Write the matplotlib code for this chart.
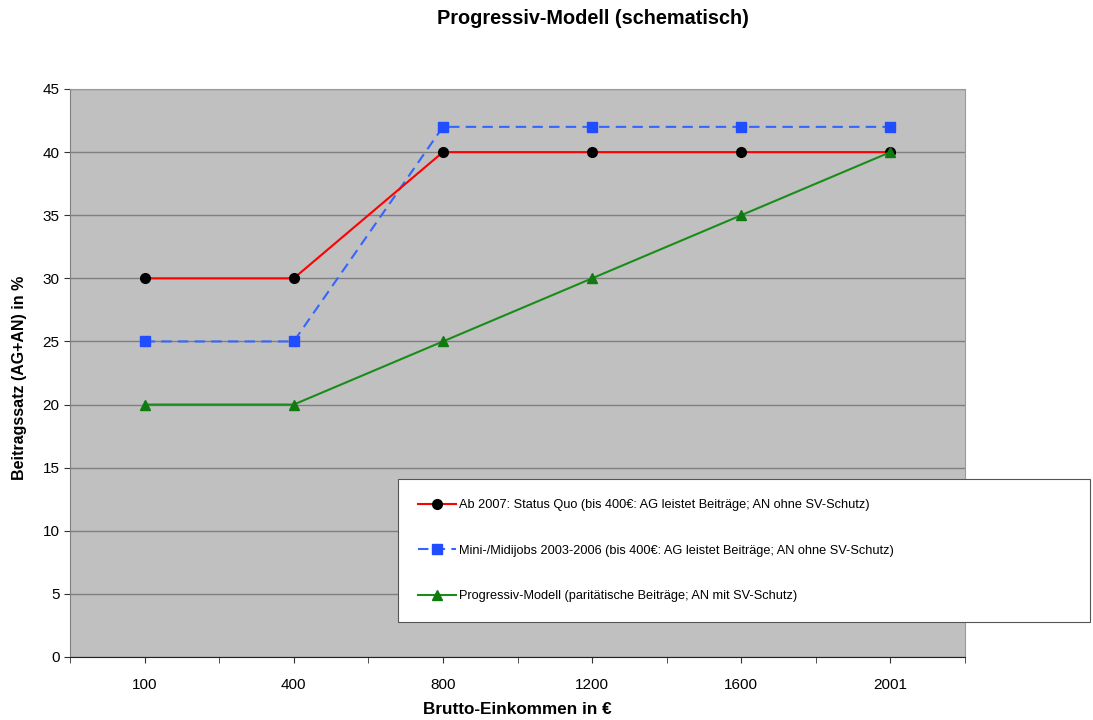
import matplotlib.pyplot as plt
from matplotlib.lines import Line2D

plt.rcParams['font.family'] = ['Liberation Sans', 'DejaVu Sans']

# Daten
einkommen = ['100', '400', '800', '1200', '1600', '2001']
status_quo = [30, 30, 40, 40, 40, 40]
mini_midi = [25, 25, 42, 42, 42, 42]
progressiv = [20, 20, 25, 30, 35, 40]

labels = [
    'Ab 2007: Status Quo (bis 400€: AG leistet Beiträge; AN ohne SV-Schutz)',
    'Mini-/Midijobs 2003-2006 (bis 400€: AG leistet Beiträge; AN ohne SV-Schutz)',
    'Progressiv-Modell (paritätische Beiträge; AN mit SV-Schutz)',
]

fig = plt.figure(figsize=(10.93, 7.2), dpi=100)
ax = fig.add_axes([70 / 1093, 1 - 657 / 720, 895 / 1093, 568 / 720])
ax.set_facecolor('#c0c0c0')

x = range(len(einkommen))
ax.plot(x, mini_midi, color='#3366ff', linestyle=(0, (5, 3)), linewidth=1.5,
        marker='s', markersize=7, markerfacecolor='#1f4dff', markeredgecolor='#1f4dff', zorder=3)
ax.plot(x, status_quo, color='#ff0000', linewidth=1.5,
        marker='o', markersize=7, markerfacecolor='black', markeredgecolor='black', zorder=4)
ax.plot(x, progressiv, color='#1a8c1a', linewidth=1.5,
        marker='^', markersize=7, markerfacecolor='#107a10', markeredgecolor='#107a10', zorder=5)

ax.set_xlim(-0.5, len(einkommen) - 0.5)
ax.set_ylim(0, 45)
ax.set_yticks(range(0, 46, 5))
ax.set_xticks(list(x))
ax.set_xticklabels(einkommen)
ax.set_xticks([i - 0.5 for i in range(len(einkommen) + 1)], minor=True)
ax.grid(axis='y', color='#7f7f7f', linewidth=1)
ax.set_axisbelow(True)
ax.tick_params(axis='both', which='both', length=4, direction='out', labelsize=11, color='#333333')
ax.tick_params(axis='x', which='major', pad=11)

for side in ['top', 'right']:
    ax.spines[side].set_color('#9a9a9a')
ax.spines['left'].set_color('#808080')
ax.spines['bottom'].set_color('#222222')

fig.text(593 / 1093, 1 - 18 / 720, 'Progressiv-Modell (schematisch)', ha='center', va='center',
         fontsize=14.3, fontweight='bold')
fig.text(517 / 1093, 1 - 710 / 720, 'Brutto-Einkommen in €', ha='center', va='center',
         fontsize=12.3, fontweight='bold')
fig.text(20 / 1093, 1 - 378 / 720, 'Beitragssatz (AG+AN) in %', ha='center', va='center',
         rotation=90, fontsize=11.5, fontweight='bold')

handles = [
    Line2D([], [], color='#ff0000', linewidth=1.5, marker='o', markersize=7,
           markerfacecolor='black', markeredgecolor='black'),
    Line2D([], [], color='#3366ff', linestyle=(0, (5, 3)), linewidth=1.5, marker='s', markersize=7,
           markerfacecolor='#1f4dff', markeredgecolor='#1f4dff'),
    Line2D([], [], color='#1a8c1a', linewidth=1.5, marker='^', markersize=7,
           markerfacecolor='#107a10', markeredgecolor='#107a10'),
]
leg = fig.legend(handles, labels, loc='upper left',
                 bbox_to_anchor=(398 / 1093, 1 - 480 / 720, 692 / 1093, 0.001), mode='expand',
                 fontsize=9.2, frameon=True, fancybox=False, edgecolor='#555555',
                 framealpha=1, facecolor='white',
                 handlelength=3.0, handletextpad=0.2, labelspacing=2.62,
                 borderpad=1.55, borderaxespad=0)
leg.get_frame().set_linewidth(0.8)

plt.savefig('out.png', dpi=100)
